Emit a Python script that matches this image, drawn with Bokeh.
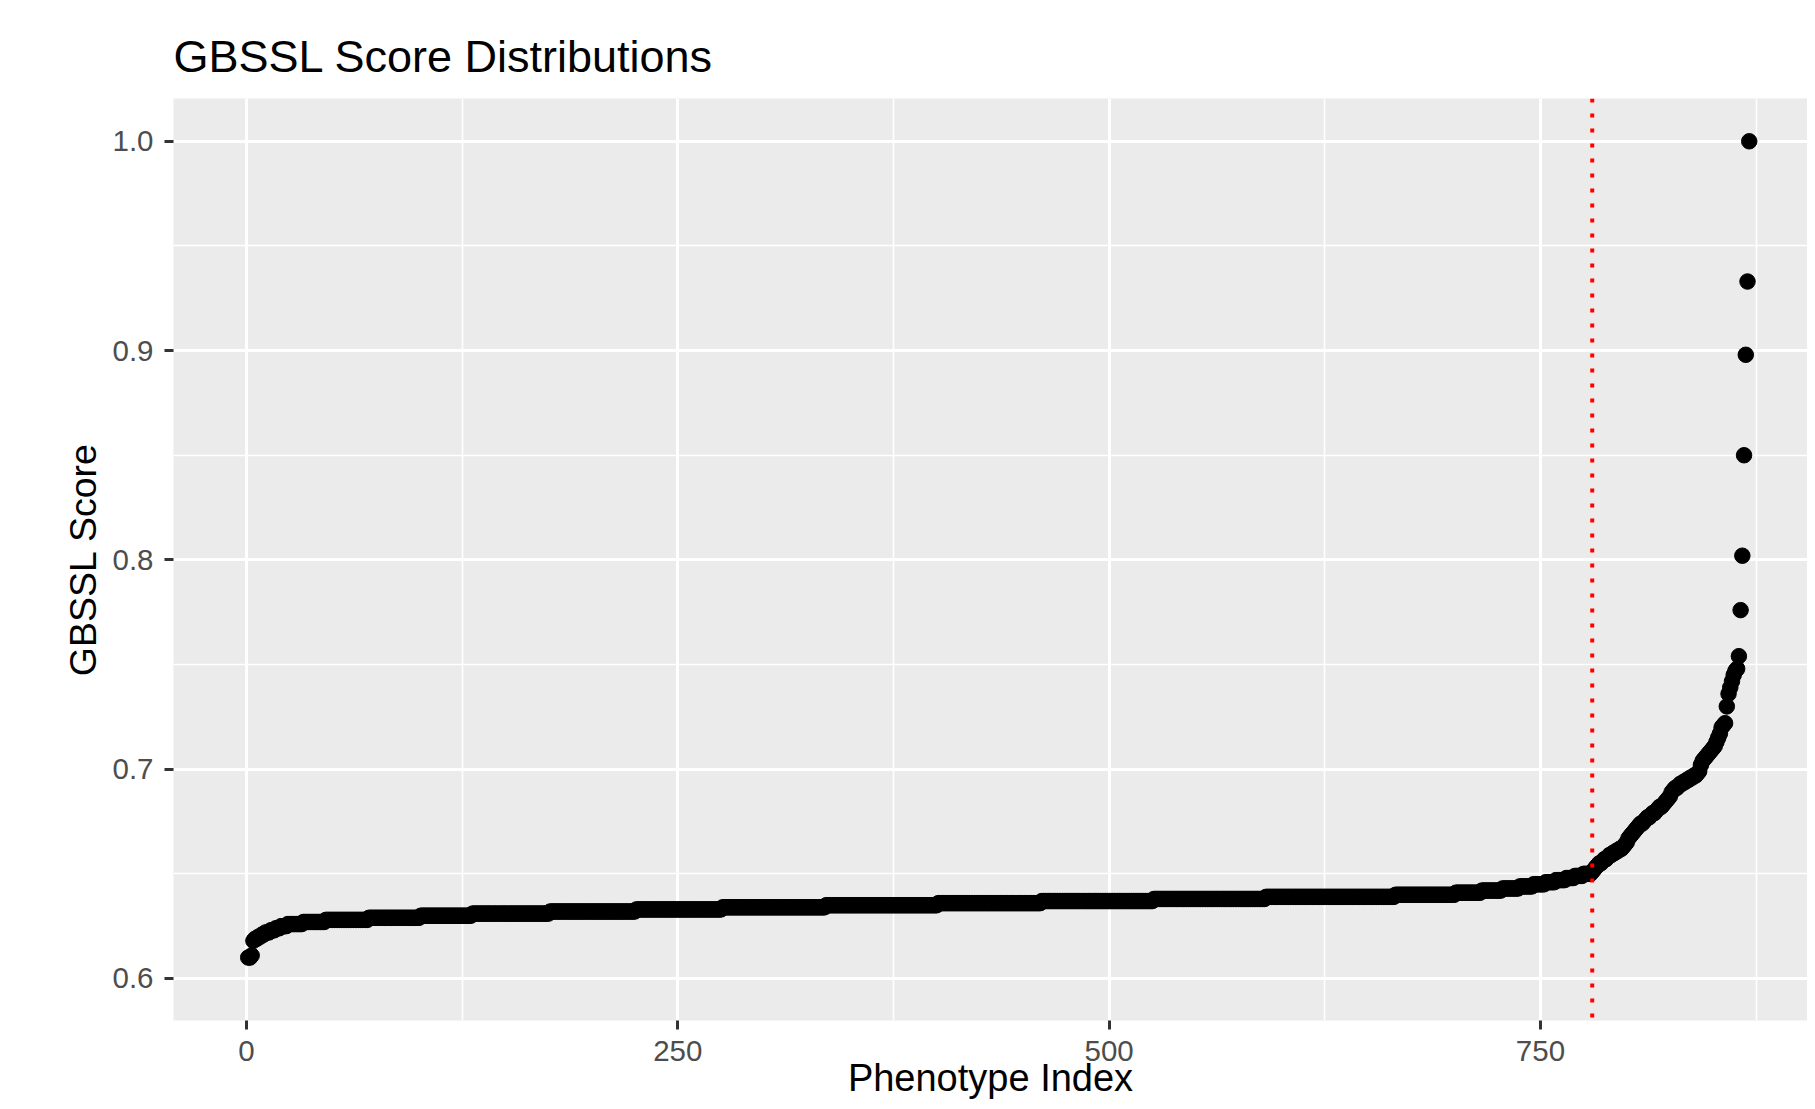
from bokeh.plotting import figure
from bokeh.models import Range1d, FixedTicker, Span, PrintfTickFormatter, ColumnDataSource
from bokeh.embed import file_html
from bokeh.resources import INLINE

# ---- data ----
# sorted GBSSL scores, phenotype index 1..N
plateau_levels = [0.610, 0.611, 0.618, 0.619, 0.620, 0.621, 0.622, 0.623, 0.624, 0.625,
                  0.626, 0.627, 0.628, 0.629, 0.630, 0.631, 0.632, 0.633, 0.634, 0.635,
                  0.636, 0.637, 0.638, 0.639, 0.640, 0.641, 0.642, 0.643, 0.644, 0.645,
                  0.646, 0.647, 0.648, 0.649, 0.650]
plateau_counts = [2, 1, 1, 2, 2, 2, 3, 3, 3, 4,
                  9, 13, 25, 30, 30, 45, 50, 50, 60, 65,
                  60, 65, 65, 75, 35, 15, 12, 10, 8, 7,
                  6, 6, 5, 5, 5]
tail_scores = [0.651, 0.652, 0.653, 0.654, 0.655, 0.655, 0.656, 0.657, 0.657, 0.658,
               0.659, 0.659, 0.660, 0.660, 0.661, 0.661, 0.662, 0.662, 0.663, 0.664,
               0.665, 0.667, 0.668, 0.669, 0.670, 0.671, 0.672, 0.673, 0.674, 0.674,
               0.675, 0.676, 0.677, 0.677, 0.678, 0.679, 0.679, 0.680, 0.681, 0.682,
               0.682, 0.683, 0.684, 0.685, 0.686, 0.687, 0.689, 0.690, 0.691, 0.691,
               0.692, 0.693, 0.693, 0.694, 0.694, 0.695, 0.695, 0.696, 0.696, 0.697,
               0.697, 0.698, 0.699, 0.702, 0.704, 0.705, 0.706, 0.707, 0.708, 0.709,
               0.710, 0.711, 0.713, 0.715, 0.717, 0.720, 0.721, 0.722, 0.730, 0.736,
               0.739, 0.742, 0.745, 0.747, 0.748, 0.754, 0.776, 0.802, 0.850, 0.898,
               0.933, 1.000]
cutoff_index = 780
x_ticks = [0, 250, 500, 750]
x_minor = [-125, 125, 375, 625, 875]
y_ticks = [0.6, 0.7, 0.8, 0.9, 1.0]
y_minor = [0.55, 0.65, 0.75, 0.85, 0.95, 1.05]

scores = []
for lvl, cnt in zip(plateau_levels, plateau_counts):
    scores.extend([lvl] * cnt)
scores.extend(tail_scores)
index = list(range(1, len(scores) + 1))

src = ColumnDataSource(dict(x=index, y=scores))

FONT = "Liberation Sans"
X0, X1 = -42.31, 904.77
Y0, Y1 = 0.57993, 1.02045

p = figure(width=1807, height=1101, output_backend="svg", toolbar_location=None,
           x_range=Range1d(X0, X1), y_range=Range1d(Y0, Y1),
           min_border_left=173, min_border_right=0, min_border_top=98, min_border_bottom=81,
           title="GBSSL Score Distributions")

p.background_fill_color = "#EBEBEB"
p.border_fill_color = "white"
p.outline_line_color = None

p.title.text_font = FONT
p.title.text_font_size = "45px"
p.title.text_font_style = "normal"
p.title.text_color = "black"
p.title.align = "left"
p.title.standoff = 33

for ax in (p.xaxis[0], p.yaxis[0]):
    ax.axis_line_color = None
    ax.major_tick_line_color = "#333333"
    ax.major_tick_line_width = 3
    ax.major_tick_out = 9
    ax.major_tick_in = 0
    ax.minor_tick_line_color = None
    ax.major_label_text_font = FONT
    ax.major_label_text_font_size = "29.5px"
    ax.major_label_text_color = "#4D4D4D"
    ax.axis_label_text_font = FONT
    ax.axis_label_text_font_style = "normal"
    ax.axis_label_text_color = "black"

p.xaxis.ticker = FixedTicker(ticks=x_ticks, minor_ticks=x_minor)
p.yaxis.ticker = FixedTicker(ticks=y_ticks, minor_ticks=y_minor)
p.yaxis.formatter = PrintfTickFormatter(format="%.1f")
p.xaxis.axis_label = "Phenotype Index"
p.yaxis.axis_label = "GBSSL Score"
p.xaxis.axis_label_text_font_size = "38px"
p.yaxis.axis_label_text_font_size = "37.5px"
p.xaxis.major_label_standoff = 11
p.yaxis.major_label_standoff = 11
p.xaxis.axis_label_standoff = -7
p.yaxis.axis_label_standoff = 5

for g in (p.xgrid[0], p.ygrid[0]):
    g.grid_line_color = "white"
    g.grid_line_width = 3
    g.minor_grid_line_color = "white"
    g.minor_grid_line_width = 1.6

p.scatter("x", "y", source=src, size=15.5, color="black", line_color="black")

p.add_layout(Span(location=cutoff_index, dimension="height", line_color="#FF0000",
                  line_width=4, line_dash="4 11"))

open("out.html", "w").write(file_html(p, INLINE))
